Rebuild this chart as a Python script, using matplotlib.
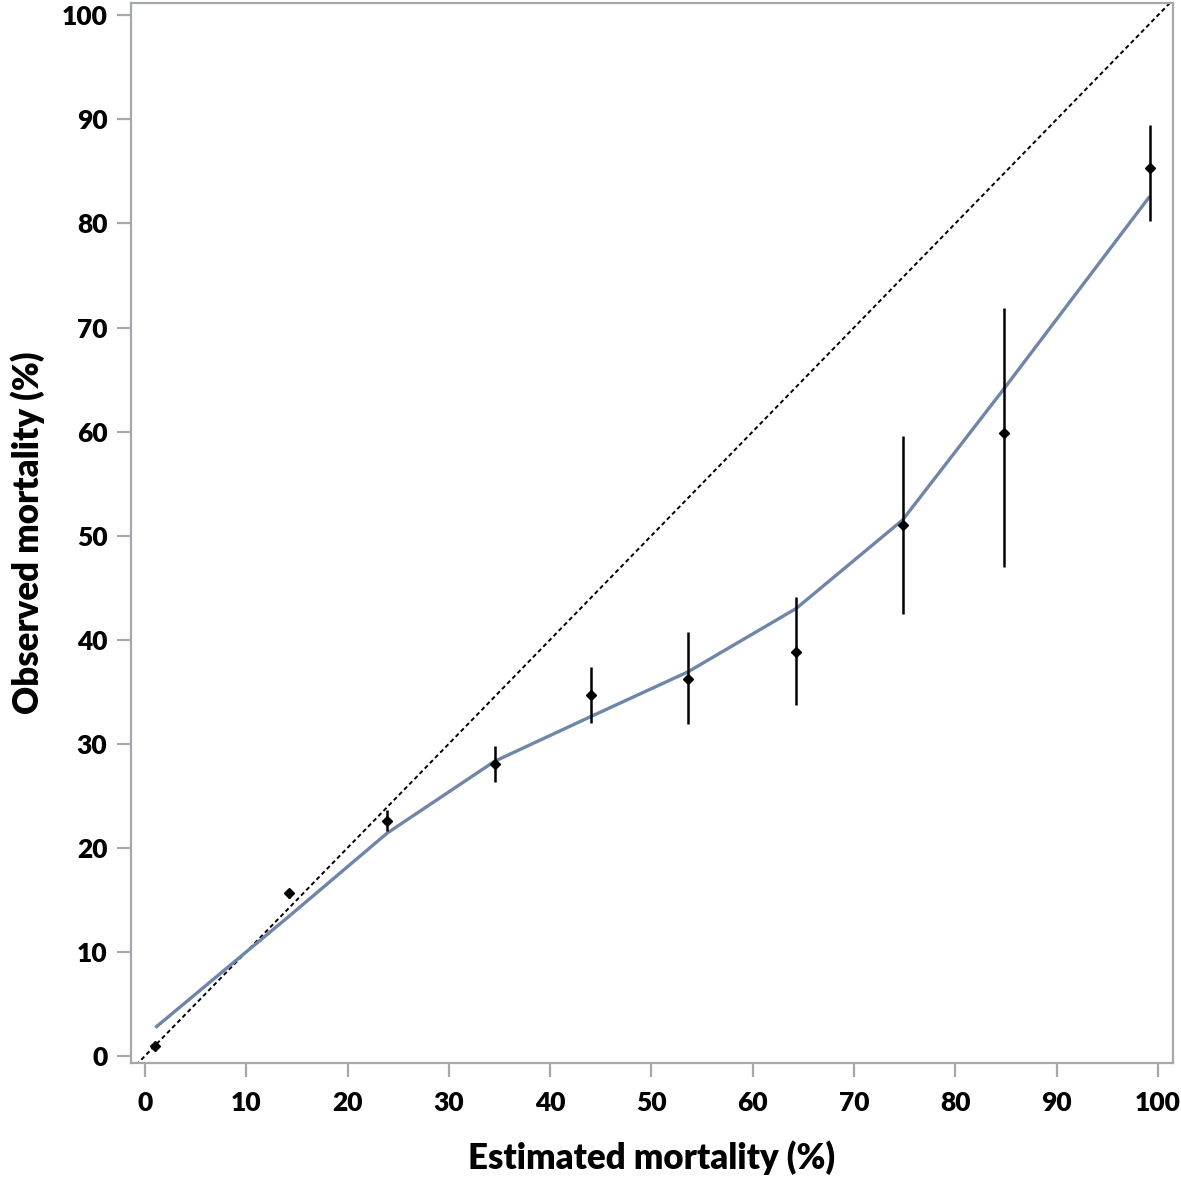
import matplotlib
matplotlib.use("Agg")
import matplotlib.pyplot as plt

# Data
est = [1.0, 14.2, 23.9, 34.5, 44.0, 53.6, 64.3, 74.8, 84.8, 99.2]
obs = [0.96, 15.6, 22.6, 28.0, 34.7, 36.2, 38.8, 51.0, 59.9, 85.3]
err_low = [0.7, 15.2, 21.6, 26.3, 32.0, 31.9, 33.7, 42.5, 47.0, 80.2]
err_high = [1.2, 16.0, 23.6, 29.8, 37.4, 40.7, 44.1, 59.6, 71.9, 89.5]

fit_x = [1.0, 14.2, 23.9, 34.5, 44.0, 53.6, 64.3, 74.8, 84.8, 99.2]
fit_y = [2.7, 13.4, 21.4, 28.3, 32.6, 36.9, 43.0, 51.5, 64.1, 82.6]

ticks = [0, 10, 20, 30, 40, 50, 60, 70, 80, 90, 100]

plt.rcParams['font.family'] = ['Lato', 'DejaVu Sans']

fig = plt.figure(figsize=(11.81, 11.78), dpi=100)
ax = fig.add_axes([0.1109, 0.0976, 0.9932 - 0.1109, 0.9975 - 0.0976])

xmin, xmax = -1.4, 101.5
ymin, ymax = -0.7, 101.2
ax.set_xlim(xmin, xmax)
ax.set_ylim(ymin, ymax)

# identity line
ax.plot([xmin, xmax], [xmin, xmax], color='black', lw=1.4, linestyle=(0, (2.2, 1.6)), zorder=2)

# fitted line
ax.plot(fit_x, fit_y, color='#6f86a8', lw=2.4, zorder=3, solid_capstyle='butt')

# error bars
lower = [o - l for o, l in zip(obs, err_low)]
upper = [h - o for o, h in zip(obs, err_high)]
ax.errorbar(est, obs, yerr=[lower, upper], fmt='D', color='black', ms=5,
            ecolor='black', elinewidth=1.8, capsize=0, zorder=4)

ax.set_xticks(ticks)
ax.set_yticks(ticks)
ax.set_xticklabels([str(t) for t in ticks], fontweight='heavy', fontsize=19)
ax.set_yticklabels([str(t) for t in ticks], fontweight='heavy', fontsize=19)

spine_c = '#a4a9ad'
for s in ax.spines.values():
    s.set_color(spine_c)
    s.set_linewidth(1.6)
ax.tick_params(axis='both', direction='out', length=10, width=1.6, color=spine_c)
ax.tick_params(axis='y', pad=7)
ax.tick_params(axis='x', pad=10)

ax.set_xlabel('Estimated mortality (%)', fontsize=25, fontweight='heavy')
ax.set_ylabel('Observed mortality (%)', fontsize=25, fontweight='heavy')
# place labels: x label centre ~y=1158px, y label centre ~x=28px
ax.xaxis.set_label_coords(0.5, (1063 - 1158) / (1063 - 3), transform=ax.transAxes)
ax.yaxis.set_label_coords((28 - 131) / (1173 - 131), 0.5, transform=ax.transAxes)
ax.xaxis.label.set_va('center')
ax.yaxis.label.set_va('center')

fig.savefig('out.png', dpi=100)
